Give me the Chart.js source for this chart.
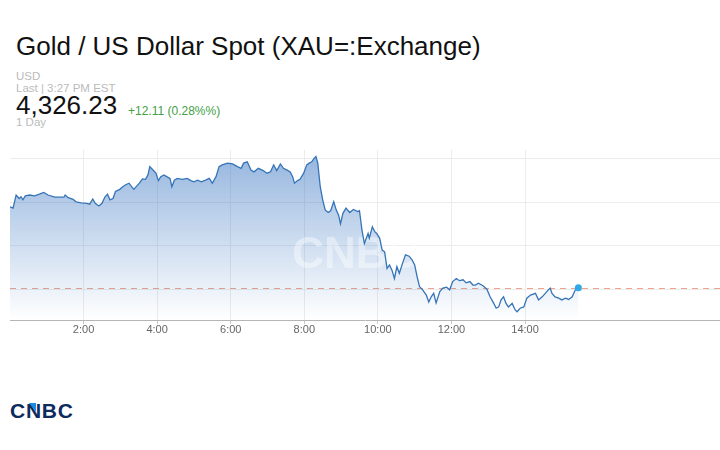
<!DOCTYPE html>
<html lang="en">
<head>
    <meta charset="UTF-8">
    <title>Gold / US Dollar Spot (XAU=:Exchange)</title>
    <script src="https://cdn.jsdelivr.net/npm/chart.js"></script>
    <style>
        body {
            margin: 0;
            width: 720px;
            height: 450px;
            background: #fff;
            font-family: Arial, "Liberation Sans", Helvetica, sans-serif;
            position: relative;
            overflow: hidden;
        }
        .txt { position: absolute; left: 16px; white-space: nowrap; }
        #title { top: 33px; font-size: 26px; line-height: 26px; color: #111; }
        #currency { top: 71px; font-size: 11.5px; line-height: 11.5px; color: #bbb; }
        #last { top: 83px; font-size: 11.5px; line-height: 11.5px; color: #bbb; }
        #price { top: 92px; font-size: 26px; line-height: 26px; color: #111; }
        #change { left: 128px; top: 105px; font-size: 12px; line-height: 12px; color: #43a047; }
        #range { top: 117px; font-size: 11.5px; line-height: 11.5px; color: #bbb; }
        #chartBox { position: absolute; left: 10px; top: 150px; width: 710px; height: 200px; }
        #logo { position: absolute; left: 10px; top: 400px; font-size: 21px; line-height: 21px;
                font-weight: bold; color: #0d2b5e; letter-spacing: 0.75px; }
        #logoMark { position: absolute; left: 29px; top: 403px; width: 0; height: 0;
                    border-top: 9px solid #1d8ce0; border-left: 7px solid transparent; }
    </style>
</head>
<body>
    <div class="txt" id="title">Gold / US Dollar Spot (XAU=:Exchange)</div>
    <div class="txt" id="currency">USD</div>
    <div class="txt" id="last">Last | 3:27 PM EST</div>
    <div class="txt" id="price">4,326.23</div>
    <div class="txt" id="change">+12.11 (0.28%%)</div>
    <div class="txt" id="range">1 Day</div>
    <div id="chartBox"><canvas id="goldChart"></canvas></div>
    <div id="logo">CNBC</div>
    <div id="logoMark"></div>
    <script>
        // minutes since 0:00 for each quote
        const times = [0,5,10,15,18,21,25,32,40,48,55,62,73,88,90,95,103,108,116,125,130,135,139,145,150,155,159,163,168,172,
            179,184,188,194,202,211,216,221,225,228,232,238,242,246,251,257,261,264,268,273,281,289,295,300,306,312,319,325,330,336,
            341,346,355,363,371,377,381,387,393,398,405,413,419,425,430,435,441,446,452,457,461,464,469,473,479,484,488,492,496,499,
            502,506,510,514,519,523,528,532,536,539,543,548,554,560,567,570,574,578,584,586,591,595,598,603,607,611,615,619,623,627,
            631,635,641,645,651,656,660,664,668,673,679,683,687,691,695,701,706,712,717,722,728,733,739,744,750,755,759,764,772,778,
            783,789,793,797,801,805,809,813,819,824,827,832,838,843,849,857,862,868,873,878,881,884,889,895,900,906,911,917,922,927];

        const prices = [4338.9,4338.6,4341.6,4340.8,4341.2,4340.5,4341.4,4341.6,4341.4,4341.8,4342.2,4341.6,4341.1,4341.1,4341.6,
            4341.0,4340.6,4340.0,4339.8,4339.7,4339.5,4340.7,4339.7,4339.1,4339.7,4341.2,4341.8,4340.5,4340.8,4342.4,
            4342.9,4343.5,4343.9,4344.3,4342.9,4344.3,4345.3,4345.2,4346.2,4348.1,4347.5,4346.6,4344.9,4345.8,4346.2,
            4345.7,4345.4,4343.5,4345.0,4345.4,4345.2,4345.4,4344.9,4344.6,4345.0,4344.6,4345.0,4345.4,4344.3,4345.8,
            4348.1,4348.5,4348.9,4348.7,4348.1,4347.7,4348.9,4349.2,4347.3,4346.9,4347.7,4347.2,4346.6,4346.9,4348.5,
            4347.2,4348.7,4347.7,4347.3,4346.9,4345.8,4344.3,4344.9,4345.2,4346.6,4348.5,4348.9,4349.2,4350.0,4350.4,
            4348.9,4343.5,4340.5,4338.2,4337.6,4338.0,4340.1,4338.2,4337.0,4335.0,4337.4,4338.6,4337.6,4338.3,4337.8,
            4338.0,4333.6,4330.5,4332.8,4331.7,4334.3,4333.2,4332.8,4331.7,4329.0,4328.6,4324.8,4325.6,4324.4,4322.5,
            4325.2,4323.7,4326.3,4327.9,4327.6,4326.7,4325.6,4322.9,4320.6,4319.9,4318.7,4317.1,4318.3,4319.1,4316.9,
            4319.5,4320.3,4320.5,4319.9,4321.8,4322.5,4322.0,4322.2,4321.5,4321.8,4321.0,4321.0,4321.4,4320.8,4320.0,
            4318.3,4316.8,4315.7,4316.0,4317.6,4318.3,4316.8,4316.0,4316.8,4315.3,4314.9,4315.7,4316.0,4318.0,4318.7,
            4319.1,4317.6,4318.3,4319.1,4319.9,4320.3,4319.1,4318.3,4318.0,4317.6,4318.0,4317.7,4318.3,4319.9,4320.4];

        const tickHours = [2, 4, 6, 8, 10, 12, 14];
        const tickLabels = ['2:00', '4:00', '6:00', '8:00', '10:00', '12:00', '14:00'];
        const yGrid = [4320, 4330, 4340, 4350];
        const lastPrice = prices[prices.length - 1];

        // dashed last-price line under the fill, CNBC watermark over the fill
        const extras = {
            id: 'extras',
            beforeDatasetsDraw(chart) {
                const { ctx, chartArea: a, scales } = chart;
                const py = Math.round(scales.y.getPixelForValue(lastPrice)) + 0.5;
                ctx.save();
                ctx.strokeStyle = '#eea48c';
                ctx.lineWidth = 1;
                ctx.setLineDash([6, 5]);
                ctx.beginPath();
                ctx.moveTo(a.left, py);
                ctx.lineTo(a.right, py);
                ctx.stroke();
                ctx.restore();
            },
            beforeDatasetDraw(chart) {
                const { ctx, chartArea: a } = chart;
                ctx.save();
                ctx.fillStyle = 'rgba(255,255,255,0.4)';
                ctx.font = 'bold 44px Arial, "Liberation Sans", sans-serif';
                ctx.textAlign = 'center';
                ctx.textBaseline = 'middle';
                ctx.fillText('CNBC', a.left + a.width * 0.487, a.top + 106);
                ctx.restore();
            }
        };

        Chart.defaults.font.family = 'Arial, "Liberation Sans", sans-serif';

        const ctx = document.getElementById('goldChart').getContext('2d');
        new Chart(ctx, {
            type: 'line',
            data: {
                datasets: [{
                    data: times.map((t, i) => ({ x: t, y: prices[i] })),
                    borderColor: '#3574b6',
                    borderWidth: 1.3,
                    tension: 0,
                    fill: 'start',
                    backgroundColor: (c) => {
                        const a = c.chart.chartArea;
                        if (!a) return 'rgba(48,112,192,0.3)';
                        const g = c.chart.ctx.createLinearGradient(0, a.top, 0, a.bottom);
                        g.addColorStop(0, 'rgba(48,112,192,0.52)');
                        g.addColorStop(1, 'rgba(48,112,192,0.0)');
                        return g;
                    },
                    pointRadius: (c) => c.dataIndex === prices.length - 1 ? 3.5 : 0,
                    pointBackgroundColor: '#2ea8e6',
                    pointBorderWidth: 0
                }]
            },
            options: {
                responsive: true,
                maintainAspectRatio: false,
                animation: false,
                layout: { padding: 0, autoPadding: false },
                plugins: { legend: { display: false }, tooltip: { enabled: false } },
                scales: {
                    x: {
                        type: 'linear',
                        min: 0,
                        max: 1158,
                        afterBuildTicks: (s) => { s.ticks = tickHours.map(h => ({ value: h * 60 })); },
                        afterFit: (s) => { s.height = 30; },
                        grid: { color: '#ececec', tickLength: 4, tickColor: '#c8c8c8' },
                        border: { color: '#b5b5b5' },
                        ticks: {
                            color: '#666',
                            font: { size: 11 },
                            padding: -1,
                            maxRotation: 0,
                            autoSkip: false,
                            callback: (v) => tickLabels[tickHours.indexOf(v / 60)]
                        }
                    },
                    y: {
                        min: 4313.0,
                        max: 4351.9,
                        afterBuildTicks: (s) => { s.ticks = yGrid.map(v => ({ value: v })); },
                        afterFit: (s) => { s.width = 0; },
                        ticks: { display: false },
                        grid: { color: '#ececec', drawTicks: false },
                        border: { display: false }
                    }
                }
            },
            plugins: [extras]
        });
    </script>
</body>
</html>
